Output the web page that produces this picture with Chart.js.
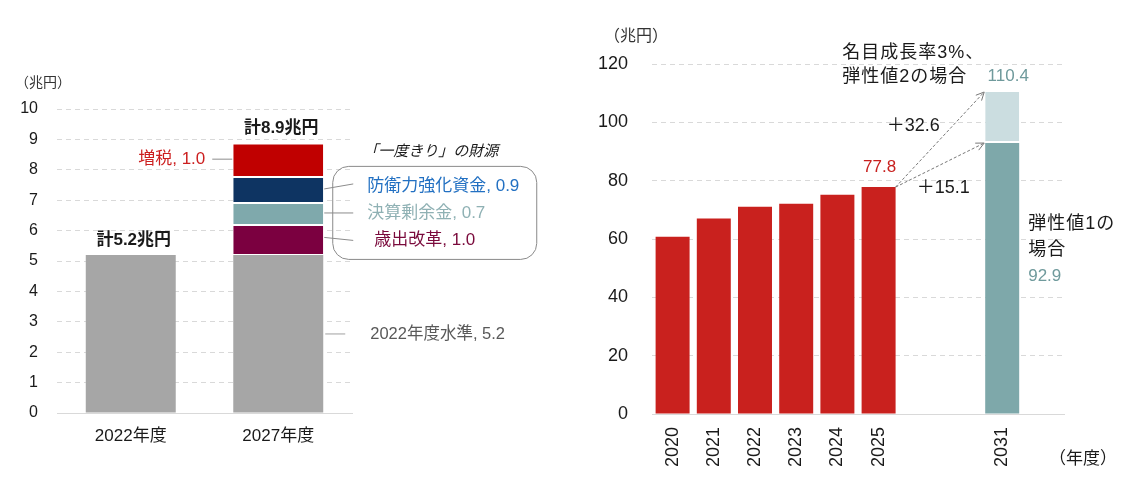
<!DOCTYPE html>
<html>
<head>
<meta charset="utf-8">
<script src="https://cdn.jsdelivr.net/npm/chart.js@4.4.0/dist/chart.umd.min.js"></script>
<style>
  html, body { margin: 0; padding: 0; background: #fff; width: 1125px; height: 491px; overflow: hidden; }
  canvas { position: absolute; top: 0; }
  #left { left: 0; }
  #right { left: 560px; }
</style>
</head>
<body>
<canvas id="left" width="560" height="491"></canvas>
<canvas id="right" width="565" height="491"></canvas>
<script>
// ---------- Left chart data ----------
const leftCategories = ['2022年度', '2027年度'];
const baseLevel      = [5.2, 5.2];     // 2022年度水準
const spendingReform = [null, 1.02];   // 歳出改革
const settlementSurplus = [null, 0.72];// 決算剰余金
const defenseFund    = [null, 0.86];   // 防衛力強化資金
const taxIncrease    = [null, 1.1];    // 増税
const leftTotals     = ['計5.2兆円', '計8.9兆円'];
const leftYTicks     = [0, 10, 1];     // min, max, step

// ---------- Right chart data ----------
const rightYears   = ['2020', '2021', '2022', '2023', '2024', '2025', '', '', '2031', ''];
const taxRevenue   = [60.8, 67.0, 71.1, 72.1, 75.2, 77.8, null, null, null, null];
const elasticity1  = [null, null, null, null, null, null, null, null, 92.9, null];
const elasticity2Extra = [null, null, null, null, null, null, null, null, 17.5, null];
const rightYTicks  = [0, 120, 20];

const FONT = "'Liberation Sans', 'Noto Sans CJK JP', sans-serif";
const GRID = '#d9d9d9';

// ---------- Left annotations ----------
const leftNotes = {
  id: 'leftNotes',
  afterDraw(chart) {
    const ctx = chart.ctx, ys = chart.scales.y;
    const m = chart.getDatasetMeta(0);
    const b0 = m.data[0], b1 = m.data[1];
    const L = b1.x - b1.width / 2, R = b1.x + b1.width / 2;
    const segs = [baseLevel[1], spendingReform[1], settlementSurplus[1], defenseFund[1], taxIncrease[1]];
    const cum = []; let acc = 0;
    segs.forEach(v => { cum.push([acc, acc + v]); acc += v; });
    const mid = i => ys.getPixelForValue((cum[i][0] + cum[i][1]) / 2);
    ctx.save();
    ctx.textBaseline = 'middle';
    // unit
    ctx.fillStyle = '#333'; ctx.font = `14px ${FONT}`; ctx.textAlign = 'left';
    ctx.fillText('（兆円）', 15, 83);
    // totals
    ctx.font = `bold 17px ${FONT}`; ctx.fillStyle = '#1a1a1a'; ctx.textAlign = 'center';
    ctx.fillText(leftTotals[0], b0.x + 3, ys.getPixelForValue(baseLevel[0]) - 15);
    ctx.fillText(leftTotals[1], b1.x + 3, ys.getPixelForValue(acc) - 14);
    function line(x1, y1, x2, y2, c) {
      ctx.beginPath(); ctx.strokeStyle = c || '#8c8c8c'; ctx.lineWidth = 1;
      ctx.moveTo(x1, y1); ctx.lineTo(x2, y2); ctx.stroke();
    }
    // 増税
    ctx.font = `17px ${FONT}`; ctx.textAlign = 'right'; ctx.fillStyle = '#cc1f1f';
    ctx.fillText('増税, 1.0', L - 28, mid(4));
    line(L - 21, mid(4), L - 1, mid(4));
    // title of box
    ctx.textAlign = 'left'; ctx.fillStyle = '#1a1a1a'; ctx.font = `italic 15px ${FONT}`;
    ctx.fillText('「一度きり」の財源', R + 40, 152);
    // rounded box
    const bx = R + 9, bw = 204, byT = ys.getPixelForValue(cum[3][1]) - 10, byB = ys.getPixelForValue(cum[0][1]) + 4;
    ctx.beginPath(); ctx.strokeStyle = '#8a8a8a'; ctx.lineWidth = 1;
    ctx.roundRect(bx + 0.5, byT + 0.5, bw, byB - byT, 16); ctx.stroke();
    // inside labels
    ctx.font = `17px ${FONT}`;
    ctx.fillStyle = '#2270c2'; ctx.fillText('防衛力強化資金, 0.9', R + 44, mid(3) - 3);
    line(R + 1, mid(3), R + 30, mid(3) - 5);
    ctx.fillStyle = '#8fb1b4'; ctx.fillText('決算剰余金, 0.7', R + 44, mid(2));
    line(R + 1, mid(2), R + 30, mid(2));
    ctx.fillStyle = '#7a0a3c'; ctx.fillText('歳出改革, 1.0', R + 51, mid(1) + 1);
    line(R + 1, mid(1) - 2, R + 30, mid(1) + 1);
    // base level label
    ctx.font = `16.5px ${FONT}`; ctx.fillStyle = '#595959';
    ctx.fillText('2022年度水準, 5.2', R + 47, mid(0));
    line(R + 2, mid(0), R + 22, mid(0), '#a0a0a0');
    ctx.restore();
  }
};

const sepBorder = { top: 2, bottom: 0, left: 0, right: 0 };
new Chart(document.getElementById('left'), {
  type: 'bar',
  data: {
    labels: leftCategories,
    datasets: [
      { data: baseLevel, backgroundColor: '#a6a6a6' },
      { data: spendingReform, backgroundColor: '#7b0040', borderColor: '#fff', borderWidth: { top: 2, bottom: 1, left: 0, right: 0 }, borderSkipped: false },
      { data: settlementSurplus, backgroundColor: '#7fa9ac', borderColor: '#fff', borderWidth: sepBorder, borderSkipped: false },
      { data: defenseFund, backgroundColor: '#0e3462', borderColor: '#fff', borderWidth: sepBorder, borderSkipped: false },
      { data: taxIncrease, backgroundColor: '#c00000', borderColor: '#fff', borderWidth: sepBorder, borderSkipped: false }
    ].map(d => Object.assign(d, { barPercentage: 0.61, categoryPercentage: 1.0 }))
  },
  options: {
    responsive: false, animation: false,
    layout: { padding: { left: 0, right: 208, top: 109, bottom: 0 } },
    plugins: { legend: { display: false }, tooltip: { enabled: false } },
    scales: {
      x: {
        stacked: true,
        grid: { display: false, drawTicks: false },
        border: { display: true, color: GRID, width: 1 },
        ticks: { padding: 13, color: '#1a1a1a', font: { size: 17, family: FONT } },
        afterFit(s) { s.height = 78; }
      },
      y: {
        stacked: true, min: leftYTicks[0], max: leftYTicks[1],
        ticks: { stepSize: leftYTicks[2], padding: 19, color: '#1a1a1a', font: { size: 16, family: FONT } },
        grid: { color: c => (c.tick && c.tick.value === 0) ? 'rgba(0,0,0,0)' : GRID, drawTicks: false, lineWidth: 1 },
        border: { display: false, dash: [5, 4] },
        afterFit(s) { s.width = 57; }
      }
    }
  },
  plugins: [leftNotes]
});

// ---------- Right annotations ----------
function arrow(ctx, x1, y1, x2, y2) {
  ctx.save();
  ctx.strokeStyle = '#777'; ctx.lineWidth = 1;
  ctx.setLineDash([3, 2]);
  ctx.beginPath(); ctx.moveTo(x1, y1); ctx.lineTo(x2, y2); ctx.stroke();
  ctx.setLineDash([]);
  const a = Math.atan2(y2 - y1, x2 - x1), h = 9;
  ctx.beginPath();
  ctx.moveTo(x2 - h * Math.cos(a - 0.45), y2 - h * Math.sin(a - 0.45));
  ctx.lineTo(x2, y2);
  ctx.lineTo(x2 - h * Math.cos(a + 0.45), y2 - h * Math.sin(a + 0.45));
  ctx.stroke();
  ctx.restore();
}

const rightNotes = {
  id: 'rightNotes',
  afterDraw(chart) {
    const ctx = chart.ctx, ys = chart.scales.y;
    const b5 = chart.getDatasetMeta(0).data[5];
    const b8 = chart.getDatasetMeta(1).data[8];
    const v25 = taxRevenue[5], v1 = elasticity1[8], v2 = elasticity1[8] + elasticity2Extra[8];
    const sx = b5.x + b5.width / 2, sy = ys.getPixelForValue(v25);
    const ex = b8.x - b8.width / 2 - 1;
    arrow(ctx, sx, sy, ex, ys.getPixelForValue(v2));
    arrow(ctx, sx, sy, ex, ys.getPixelForValue(v1));
    ctx.save();
    ctx.textBaseline = 'middle';
    ctx.fillStyle = '#333'; ctx.font = `16px ${FONT}`; ctx.textAlign = 'left';
    ctx.fillText('（兆円）', 44, 37);
    ctx.fillStyle = '#1a1a1a'; ctx.font = `18px ${FONT}`;
    if ('letterSpacing' in ctx) ctx.letterSpacing = '1px';
    ctx.fillText('名目成長率3%、', ex - 142, 53);
    ctx.fillText('弾性値2の場合', ex - 142, 77);
    const rx = b8.x + b8.width / 2 + 9;
    ctx.fillText('弾性値1の', rx, ys.getPixelForValue(65));
    ctx.fillText('場合', rx, ys.getPixelForValue(65) + 26);
    if ('letterSpacing' in ctx) ctx.letterSpacing = '0px';
    ctx.textAlign = 'center';
    ctx.fillText('＋32.6', ex - 71, ys.getPixelForValue(100) + 4);
    ctx.fillText('＋15.1', ex - 41, sy + 1);
    ctx.font = `17px ${FONT}`;
    ctx.fillStyle = '#c8201e';
    ctx.fillText(String(v25), b5.x + 1, sy - 20);
    ctx.fillStyle = '#6f9a9c';
    ctx.fillText(String(v2), b8.x + 6, ys.getPixelForValue(v2) - 16);
    ctx.textAlign = 'left';
    ctx.fillText(String(v1), rx, ys.getPixelForValue(65) + 52);
    ctx.fillStyle = '#1a1a1a'; ctx.font = `17px ${FONT}`;
    ctx.fillText('（年度）', 489, 459);
    ctx.restore();
  }
};

new Chart(document.getElementById('right'), {
  type: 'bar',
  data: {
    labels: rightYears,
    datasets: [
      { data: taxRevenue, backgroundColor: '#c9211e' },
      { data: elasticity1, backgroundColor: '#7ea8aa' },
      { data: elasticity2Extra, backgroundColor: '#cbdde0', borderColor: '#fff', borderWidth: { top: 0, bottom: 2, left: 0, right: 0 }, borderSkipped: false }
    ].map(d => Object.assign(d, { barPercentage: 0.825, categoryPercentage: 1.0 }))
  },
  options: {
    responsive: false, animation: false,
    layout: { padding: { left: 0, right: 61, top: 64, bottom: 0 } },
    plugins: { legend: { display: false }, tooltip: { enabled: false } },
    scales: {
      x: {
        stacked: true,
        grid: { display: false, drawTicks: false },
        border: { display: true, color: GRID, width: 1 },
        ticks: { autoSkip: false, minRotation: 90, maxRotation: 90, padding: 13, color: '#1a1a1a', font: { size: 18, family: FONT } },
        afterFit(s) { s.height = 77; }
      },
      y: {
        stacked: true, min: rightYTicks[0], max: rightYTicks[1],
        ticks: { stepSize: rightYTicks[2], padding: 24, color: '#1a1a1a', font: { size: 18, family: FONT } },
        grid: { color: c => (c.tick && c.tick.value === 0) ? 'rgba(0,0,0,0)' : GRID, drawTicks: false, lineWidth: 1 },
        border: { display: false, dash: [5, 4] },
        afterFit(s) { s.width = 92; }
      }
    }
  },
  plugins: [rightNotes]
});
</script>
</body>
</html>
